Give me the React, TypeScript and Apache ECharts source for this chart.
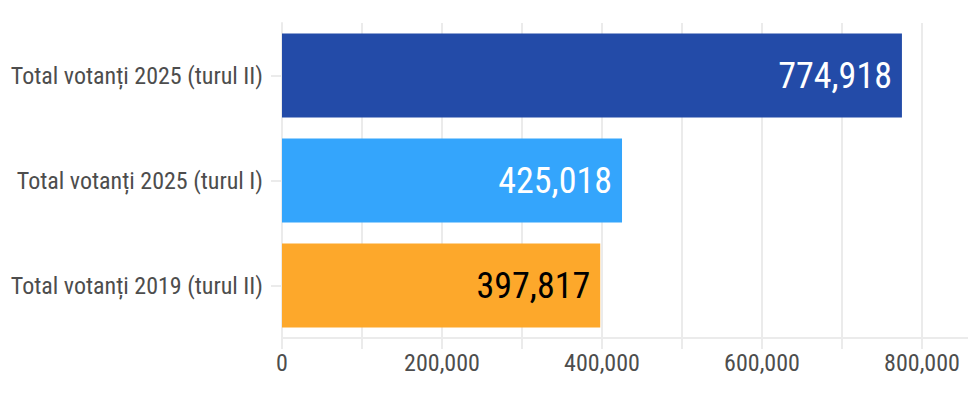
import React, { useEffect, useRef } from "react";
import * as echarts from "echarts";

const categories = [
  "Total votanți 2019 (turul II)",
  "Total votanți 2025 (turul I)",
  "Total votanți 2025 (turul II)",
];
const values = [397817, 425018, 774918];
const barColors = ["#fda82b", "#34a5fc", "#234ba8"];
const labelColors = ["#000000", "#ffffff", "#ffffff"];

const FONT = "'Roboto Condensed', 'DejaVu Sans Condensed', Roboto, sans-serif";
const fmt = (v: number) => v.toLocaleString("en-US");

export default function App() {
  const ref = useRef<HTMLDivElement>(null);
  useEffect(() => {
    const chart = echarts.init(ref.current!, null, { renderer: "svg" });
    chart.setOption({
      animation: false,
      textStyle: { fontFamily: FONT },
      grid: {
        left: 282,
        width: 690,
        top: 23,
        bottom: 58,
        containLabel: false,
        outerBoundsMode: "none",
      },
      xAxis: {
        type: "value",
        min: 0,
        max: 862500,
        interval: 100000,
        axisLine: { show: true, lineStyle: { color: "#ebebeb", width: 2 } },
        axisTick: { show: true, length: 11, lineStyle: { color: "#ebebeb", width: 2 } },
        splitLine: { show: true, lineStyle: { color: "#ebebeb", width: 2 } },
        axisLabel: {
          color: "#4d4d4d",
          fontSize: 24,
          fontFamily: FONT,
          margin: 13,
          showMaxLabel: false,
          formatter: (v: number) => (v % 200000 === 0 ? fmt(v) : ""),
        },
      },
      yAxis: {
        type: "category",
        data: categories,
        axisLine: { show: true, lineStyle: { color: "#ebebeb", width: 2 } },
        axisTick: { show: true, alignWithLabel: true, length: 11, lineStyle: { color: "#ebebeb", width: 2 } },
        axisLabel: { color: "#4d4d4d", fontSize: 24, fontFamily: FONT, margin: 19 },
      },
      series: [
        {
          type: "bar",
          barCategoryGap: "20%",
          data: values.map((v, i) => ({
            value: v,
            itemStyle: { color: barColors[i] },
            label: { color: labelColors[i] },
          })),
          label: {
            show: true,
            position: "insideRight",
            distance: 10,
            fontSize: 36,
            fontFamily: FONT,
            formatter: (p: any) => fmt(p.value),
          },
        },
      ],
    });
    return () => chart.dispose();
  }, []);
  return (
    <div
      ref={ref}
      style={{ position: "fixed", left: 0, top: 0, width: 968, height: 396, background: "#fff" }}
    />
  );
}
